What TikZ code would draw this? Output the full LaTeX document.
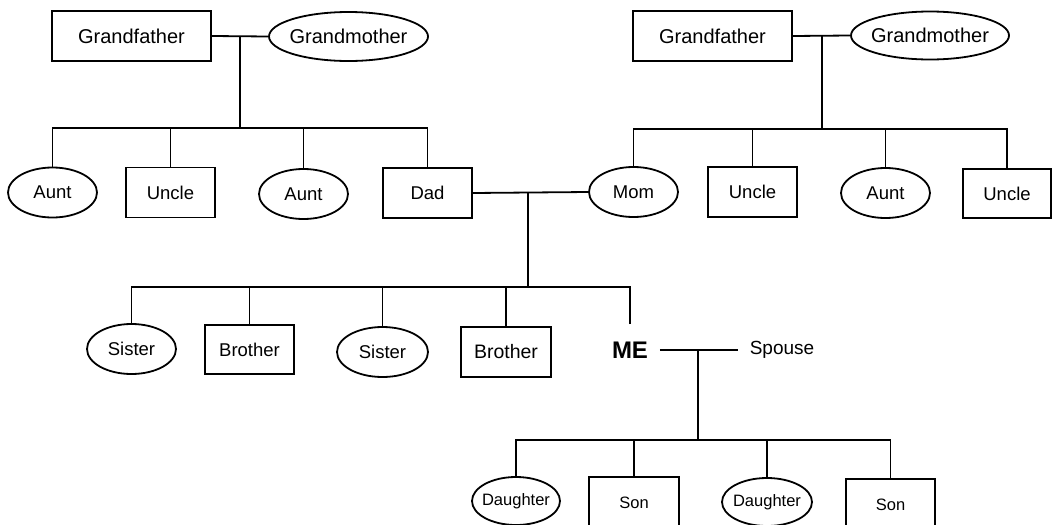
\documentclass[tikz,border=0pt]{standalone}
\usepackage{fontspec}
\setmainfont{Liberation Sans}
\usetikzlibrary{shapes.geometric}
\newcommand\zw[1]{\makebox[0pt]{#1}}
\begin{document}
\begin{tikzpicture}[x=1pt,y=-1pt,
  line width=1.8pt,
  every node/.style={inner sep=0pt},
  male/.style={draw,rectangle,minimum width=89pt,minimum height=50pt,font=\fontsize{18.5}{20}\selectfont},
  female/.style={draw,ellipse,minimum width=89pt,minimum height=50pt,font=\fontsize{18.5}{20}\selectfont},
  gp/.style={font=\fontsize{20}{22}\selectfont,minimum width=159pt,minimum height=50pt},
  kid/.style={font=\fontsize{16.5}{18}\selectfont},
  plain/.style={inner xsep=11pt,minimum height=50pt}]
\useasboundingbox (0,0) rectangle (1053,525);
\clip (0,0) rectangle (1053,525);
% left grandparents
\node[male,gp] (gf1) at (131.5,36) {Grandfather};
\node[female,gp,minimum height=49pt] (gm1) at (348.5,36.5) {\zw{Grandmother}};
\coordinate (j1) at (240,36);
\coordinate (b1) at (240,128);
\node[female] (aunt1) at (52.5,192.5) {\zw{Aunt}};
\node[male] (uncle1) at (170.5,192.5) {Uncle};
\node[female] (aunt2) at (303.5,194) {\zw{Aunt}};
\node[male] (dad) at (427.5,193) {Dad};
\draw (gf1.east) -- (gm1.west);
\draw (j1) -- (b1);
\draw (aunt1.north) |- (b1);
\draw (uncle1.north) |- (b1);
\draw (aunt2.north) |- (b1);
\draw (dad.north) |- (b1);
% right grandparents
\node[male,gp] (gf2) at (712.5,36) {Grandfather};
\node[female,gp,minimum width=158pt,minimum height=48pt] (gm2) at (930,35.5) {\zw{Grandmother}};
\coordinate (j2) at (822,36);
\coordinate (b2) at (822,129);
\node[female] (mom) at (633.5,192) {\zw{Mom}};
\node[male] (uncle2) at (752.5,192) {Uncle};
\node[female] (aunt3) at (885.5,193) {\zw{Aunt}};
\node[male,minimum width=88pt,minimum height=49pt] (uncle3) at (1007,193.5) {Uncle};
\draw (gf2.east) -- (gm2.west);
\draw (j2) -- (b2);
\draw (mom.north) |- (b2);
\draw (uncle2.north) |- (b2);
\draw (aunt3.north) |- (b2);
\draw (uncle3.north) |- (b2);
% parents
\coordinate (j3) at (528,193);
\coordinate (b3) at (528,287);
\draw (dad.east) -- (mom.west);
\draw (j3) -- (b3);
\node[female] (sister1) at (131.5,349) {\zw{Sister}};
\node[male,minimum height=49pt] (brother1) at (249.5,349.5) {Brother};
\node[female,minimum width=91pt] (sister2) at (382.5,352) {\zw{Sister}};
\node[male,minimum width=90pt,font=\fontsize{19.5}{21}\selectfont] (brother2) at (506,352) {Brother};
\node[plain,font=\fontsize{24}{26}\selectfont\bfseries] (me) at (630,350) {ME};
\draw (sister1.north) |- (b3);
\draw (brother1.north) |- (b3);
\draw (sister2.north) |- (b3);
\draw (brother2.north) |- (b3);
\draw (me.north) |- (b3);
% me and spouse
\node[plain,font=\fontsize{19}{21}\selectfont] (spouse) at (782,350) {Spouse};
\coordinate (j4) at (698,350);
\coordinate (b4) at (698,440);
\draw (me.east) -- (spouse.west);
\draw (j4) -- (b4);
\node[female,kid,minimum width=88pt,minimum height=48pt] (dau1) at (516,501) {\zw{Daughter}};
\node[male,kid,minimum width=90pt,minimum height=52pt] (son1) at (634,503) {Son};
\node[female,kid,minimum width=90pt,minimum height=48pt] (dau2) at (767,502) {\zw{Daughter}};
\node[male,kid,minimum width=89pt,minimum height=52pt] (son2) at (890.5,505) {Son};
\draw (dau1.north) |- (b4);
\draw (son1.north) |- (b4);
\draw (dau2.north) |- (b4);
\draw (son2.north) |- (b4);
\end{tikzpicture}
\end{document}
